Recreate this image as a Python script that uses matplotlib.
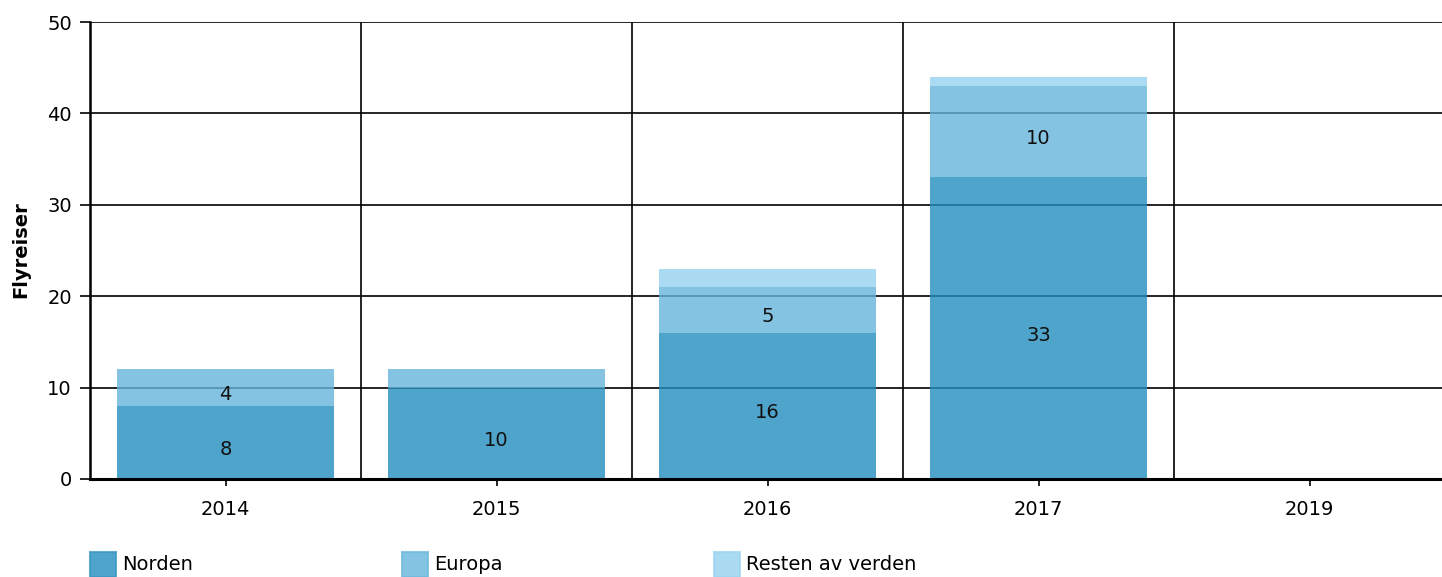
import numpy as np
import matplotlib.pyplot as plt
from matplotlib.patches import Rectangle

years = ['2014', '2015', '2016', '2017', '2019']
series = ['Norden', 'Europa', 'Resten av verden']
norden = [8, 10, 16, 33, 0]
europa = [4, 2, 5, 10, 0]
resten = [0, 0, 2, 1, 0]

# base colours, drawn half transparent so the grid shows through
colors = ['#238ebf', '#65b5db', '#95d3ef']
edge_colors = ['#3b97c4', '#6fbade', '#9ed6f0']
min_label = 3
fs = 14


def draw_chart():
    fig = plt.figure(figsize=(14.42, 5.77), dpi=100)
    ax = fig.add_axes([90 / 1442, 1 - 479 / 577, 1355 / 1442, 457 / 577])
    x = np.arange(len(years))
    bottom = np.zeros(len(years))
    for vals, c in zip([norden, europa, resten], colors):
        bars = ax.bar(x, vals, 0.8, bottom=bottom, color=c, alpha=0.8,
            linewidth=0, zorder=2)
        for b, v in zip(bars, vals):
            if v < min_label: continue
            ax.annotate(str(v), (b.get_x() + b.get_width() / 2,
                b.get_y() + b.get_height() / 2), xytext=(0, -5),
                textcoords='offset points', ha='center', va='center',
                fontsize=fs, color='#111111', zorder=3)
        bottom += np.array(vals)
    ax.set_xlim(-0.5, len(years) - 0.5)
    ax.set_ylim(0, 50)
    ax.set_yticks(range(0, 51, 10))
    ax.set_xticks(x)
    ax.set_xticklabels(years)
    ax.set_xticks(np.arange(len(years) + 1) - 0.5, minor=True)
    ax.tick_params(axis='x', which='minor', length=0)
    ax.tick_params(axis='x', which='major', length=5, width=1.2, pad=10,
        labelsize=fs)
    ax.tick_params(axis='y', length=7, width=1.2, pad=6, labelsize=fs)
    ax.grid(axis='y', color='black', linewidth=1.2)
    ax.grid(axis='x', which='minor', color='black', linewidth=1.2)
    ax.set_axisbelow(True)
    for s in ['top', 'right']: ax.spines[s].set_visible(False)
    ax.spines['left'].set_linewidth(1.8)
    ax.spines['bottom'].set_linewidth(2.2)
    fig.text(21 / 1442, 1 - 250 / 577, 'Flyreiser', rotation=90,
        fontsize=fs, fontweight='bold', ha='center', va='center')
    # legend row under the chart
    for i, name in enumerate(series):
        x0 = (90 + 312 * i) / 1442
        fig.add_artist(Rectangle((x0, 0), 26 / 1442, 25 / 577,
            transform=fig.transFigure, facecolor=colors[i], alpha=0.8,
            edgecolor=edge_colors[i], linewidth=1.5))
        fig.text(x0 + 32 / 1442, 1 - 564 / 577, name, fontsize=fs,
            va='center', ha='left')
    fig.savefig('out.png', dpi=100)


draw_chart()
